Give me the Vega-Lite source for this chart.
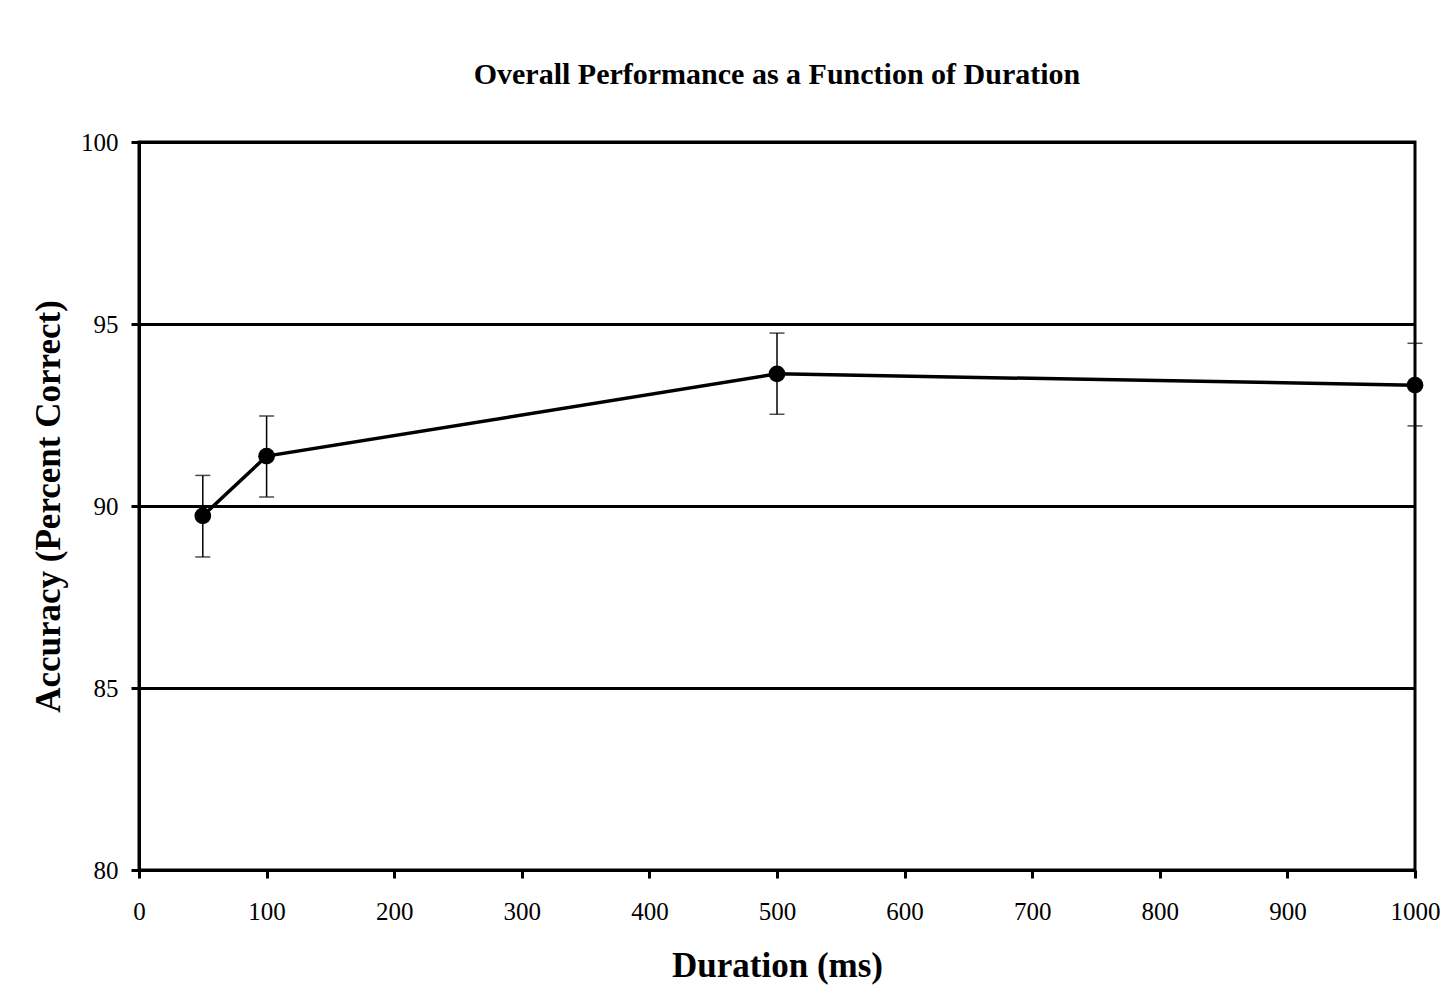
{
  "$schema": "https://vega.github.io/schema/vega-lite/v6.json",
  "autosize": {"type": "none"},
  "width": 1276,
  "height": 728,
  "padding": {"left": 139, "top": 142, "right": 38, "bottom": 130},
  "background": "white",
  "title": {
    "text": "Overall Performance as a Function of Duration",
    "font": "Liberation Serif",
    "fontSize": 30,
    "fontWeight": "bold",
    "color": "black",
    "anchor": "middle",
    "offset": 40
  },
  "config": {
    "view": {"stroke": "black", "strokeWidth": 3},
    "axis": {
      "labelFont": "Liberation Serif",
      "labelFontSize": 25,
      "labelColor": "black",
      "titleFont": "Liberation Serif",
      "titleFontSize": 35,
      "titleFontWeight": "bold",
      "titleColor": "black",
      "domainColor": "black",
      "domainWidth": 3,
      "tickColor": "black",
      "tickWidth": 3,
      "tickSize": 8
    }
  },
  "data": {
    "values": [
      {"duration": 50, "acc": 89.73, "lo": 88.6, "hi": 90.84},
      {"duration": 100, "acc": 91.37, "lo": 90.25, "hi": 92.47},
      {"duration": 500, "acc": 93.63, "lo": 92.52, "hi": 94.75},
      {"duration": 1000, "acc": 93.32, "lo": 92.2, "hi": 94.47}
    ]
  },
  "encoding": {
    "x": {
      "field": "duration",
      "type": "quantitative",
      "scale": {"domain": [0, 1000], "nice": false},
      "axis": {
        "title": "Duration (ms)",
        "format": "d",
        "values": [0, 100, 200, 300, 400, 500, 600, 700, 800, 900, 1000],
        "grid": false,
        "labelPadding": 21,
        "titlePadding": 24,
        "labelFlush": false
      }
    }
  },
  "layer": [
    {
      "mark": {"type": "rule", "color": "black", "strokeWidth": 1.5},
      "encoding": {
        "y": {
          "field": "lo",
          "type": "quantitative",
          "scale": {"domain": [80, 100], "nice": false, "zero": false},
          "axis": {
            "title": "Accuracy (Percent Correct)",
            "values": [80, 85, 90, 95, 100],
            "grid": true,
            "gridColor": "black",
            "gridWidth": 3,
            "gridOpacity": 1,
            "labelPadding": 13,
            "titlePadding": 14,
            "labelFlush": false
          }
        },
        "y2": {"field": "hi"}
      }
    },
    {
      "mark": {"type": "tick", "color": "black", "orient": "horizontal", "thickness": 1.5, "size": 15},
      "encoding": {"y": {"field": "lo", "type": "quantitative"}}
    },
    {
      "mark": {"type": "tick", "color": "black", "orient": "horizontal", "thickness": 1.5, "size": 15},
      "encoding": {"y": {"field": "hi", "type": "quantitative"}}
    },
    {
      "mark": {"type": "line", "color": "black", "strokeWidth": 3.5},
      "encoding": {"y": {"field": "acc", "type": "quantitative"}}
    },
    {
      "mark": {"type": "point", "filled": true, "color": "black", "opacity": 1, "size": 280},
      "encoding": {"y": {"field": "acc", "type": "quantitative"}}
    }
  ]
}
